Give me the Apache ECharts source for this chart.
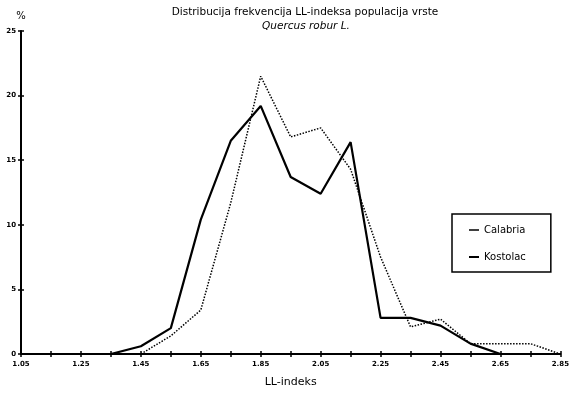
<!DOCTYPE html>
<html>
<head>
<meta charset="utf-8">
<script src="https://cdn.jsdelivr.net/npm/echarts@6/dist/echarts.min.js"></script>
<style>html,body{margin:0;padding:0;background:#fff;}#c{width:572px;height:394px;}</style>
</head>
<body>
<div id="c"></div>
<script>
const categories = ['1.05','1.15','1.25','1.35','1.45','1.55','1.65','1.75','1.85','1.95','2.05','2.15','2.25','2.35','2.45','2.55','2.65','2.75','2.85'];
const calabria = [0,0,0,0,0,1.4,3.4,11.7,21.5,16.8,17.5,14.3,7.5,2.1,2.7,0.8,0.8,0.8,0];
const kostolac = [0,0,0,0,0.6,2.0,10.4,16.5,19.2,13.7,12.4,16.4,2.8,2.8,2.2,0.8,0,0,0];
const yTicks = [0, 5, 10, 15, 20, 25];

const FONT = 'DejaVu Sans';
const chart = echarts.init(document.getElementById('c'), null, {renderer: 'canvas'});
chart.setOption({
  backgroundColor: '#fff',
  animation: false,
  textStyle: {fontFamily: FONT, color: '#000'},
  title: [
    {text: 'Distribucija frekvencija LL-indeksa populacija vrste', left: 300, top: 2, textAlign: 'center',
     textStyle: {fontFamily: FONT, fontSize: 10.5, fontWeight: 'normal', color: '#000'}},
    {text: 'Quercus robur L.', left: 301, top: 16, textAlign: 'center',
     textStyle: {fontFamily: FONT, fontSize: 10.5, fontStyle: 'italic', fontWeight: 'normal', color: '#000'}}
  ],
  grid: {left: 21, right: 8, top: 31, bottom: 40, containLabel: false},
  legend: {
    orient: 'vertical', left: 452, top: 214,
    borderColor: '#000', borderWidth: 1.5,
    padding: [11, 25, 10, 17],
    itemWidth: 10, itemHeight: 8, itemGap: 17,
    textStyle: {fontFamily: FONT, fontSize: 10, color: '#000'},
    data: [
      {name: 'Calabria', icon: 'path://M0,3.5L10,3.5L10,5L0,5Z'},
      {name: 'Kostolac', icon: 'path://M0,3.5L10,3.5L10,5.5L0,5.5Z'}
    ],
    itemStyle: {color: '#000'}
  },
  xAxis: [
    {
      type: 'category', data: categories, boundaryGap: false,
      name: 'LL-indeks', nameLocation: 'middle', nameGap: 23,
      nameTextStyle: {fontFamily: FONT, fontSize: 11, color: '#000'},
      axisLine: {lineStyle: {color: '#000', width: 2}},
      axisTick: {interval: 0, length: 3, lineStyle: {color: '#000', width: 1.5}},
      axisLabel: {interval: 1, fontSize: 7, fontWeight: 'bold', color: '#000', margin: 7, fontFamily: FONT},
      splitLine: {show: false}
    },
    {
      type: 'category', data: categories, boundaryGap: false, position: 'bottom',
      axisLine: {show: false},
      axisTick: {interval: 0, inside: true, length: 3, lineStyle: {color: '#000', width: 1.5}},
      axisLabel: {show: false},
      splitLine: {show: false}
    }
  ],
  yAxis: [
    {
      type: 'value', min: 0, max: 25, interval: 5,
      name: '%', nameLocation: 'end', nameGap: 10,
      nameTextStyle: {fontFamily: FONT, fontSize: 10, color: '#000', align: 'center'},
      axisLine: {show: true, lineStyle: {color: '#000', width: 2}},
      axisTick: {show: true, length: 3, lineStyle: {color: '#000', width: 1.5}},
      axisLabel: {fontSize: 7, fontWeight: 'bold', color: '#000', margin: 5, fontFamily: FONT,
                  formatter: function (v) { return yTicks.indexOf(v) >= 0 ? String(v) : ''; }},
      splitLine: {show: false}
    },
    {
      type: 'value', min: 0, max: 25, interval: 5, position: 'left',
      axisLine: {show: false},
      axisTick: {show: true, inside: true, length: 3, lineStyle: {color: '#000', width: 1.5}},
      axisLabel: {show: false},
      splitLine: {show: false}
    }
  ],
  series: [
    {
      name: 'Calabria', type: 'line', data: calabria, symbol: 'none', z: 3,
      lineStyle: {color: '#000', width: 1.5, type: [1.5, 1.5]},
      itemStyle: {color: '#000'}
    },
    {
      name: 'Kostolac', type: 'line', data: kostolac, symbol: 'none', z: 4,
      lineStyle: {color: '#000', width: 2.2, type: 'solid'},
      itemStyle: {color: '#000'}
    }
  ]
});
</script>
</body>
</html>
